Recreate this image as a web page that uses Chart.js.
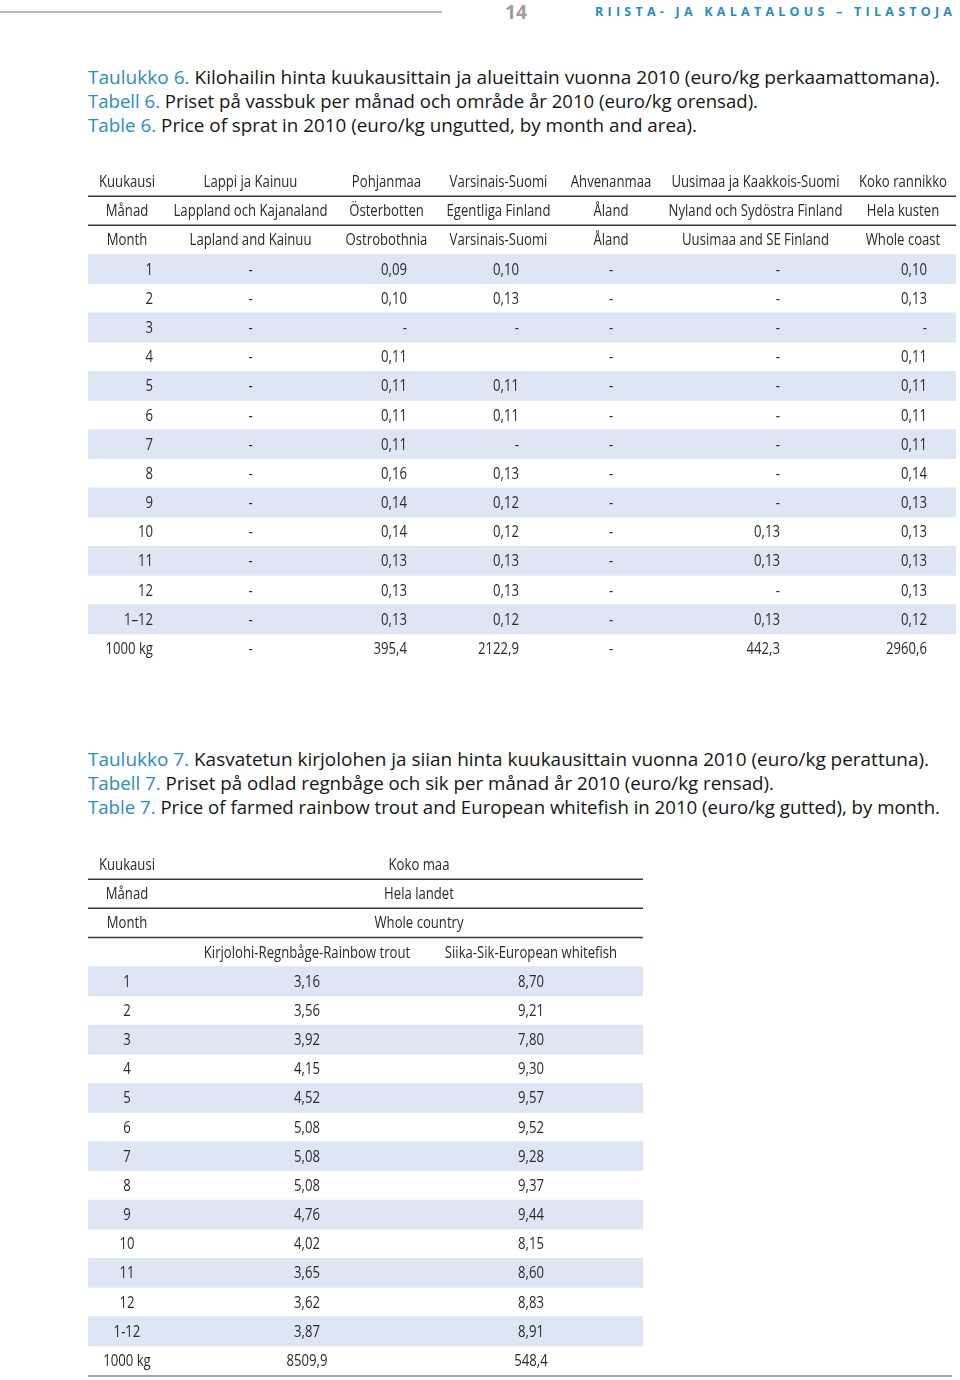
<!DOCTYPE html>
<html>
<head>
<meta charset="utf-8">
<script src="https://cdn.jsdelivr.net/npm/chart.js@4.4.0/dist/chart.umd.min.js"></script>
<style>
html,body{margin:0;padding:0;background:#fff;}
body{width:960px;height:1380px;position:relative;overflow:hidden;font-family:'Open Sans','Noto Sans',sans-serif;}
.topline{position:absolute;left:0;top:11px;width:442px;height:2px;background:#b8b8b8;}
.pnum{position:absolute;left:505px;top:0;height:24px;line-height:24px;font-size:20px;font-weight:700;color:#9d9d9d;white-space:nowrap;transform-origin:0 50%;}
.runhead{position:absolute;left:595px;top:0;height:24px;line-height:24px;font-size:12.5px;font-weight:700;color:#1f8dc6;white-space:nowrap;}
.tline{position:absolute;left:88px;height:24px;line-height:24px;font-size:18px;color:#161616;white-space:nowrap;transform-origin:0 50%;}
.tline .b{color:#2a8bc9;}
.botline{position:absolute;left:88px;top:1375px;width:864px;height:2px;background:#a8a8a8;}
.tbl{position:absolute;}
</style>
</head>
<body>
<div class="topline"></div>
<div class="pnum" id="pnum">14</div>
<div class="runhead" id="runhead">RIISTA- JA KALATALOUS – TILASTOJA</div>

<div class="tline" data-w="852" style="top:65px"><span class="b">Taulukko 6.</span> Kilohailin hinta kuukausittain ja alueittain vuonna 2010 (euro/kg perkaamattomana).</div>
<div class="tline" data-w="670" style="top:89px"><span class="b">Tabell 6.</span> Priset på vassbuk per månad och område år 2010 (euro/kg orensad).</div>
<div class="tline" data-w="609" style="top:113px"><span class="b">Table 6.</span> Price of sprat in 2010 (euro/kg ungutted, by month and area).</div>

<div class="tbl" style="left:88px;top:167px;width:868px;height:496px;"><canvas id="t6" width="868" height="496"></canvas></div>

<div class="tline" data-w="841" style="top:747px"><span class="b">Taulukko 7.</span> Kasvatetun kirjolohen ja siian hinta kuukausittain vuonna 2010 (euro/kg perattuna).</div>
<div class="tline" data-w="686" style="top:771px"><span class="b">Tabell 7.</span> Priset på odlad regnbåge och sik per månad år 2010 (euro/kg rensad).</div>
<div class="tline" data-w="852" style="top:795px"><span class="b">Table 7.</span> Price of farmed rainbow trout and European whitefish in 2010 (euro/kg gutted), by month.</div>

<div class="tbl" style="left:88px;top:850px;width:555px;height:525px;"><canvas id="t7" width="555" height="525"></canvas></div>

<div class="botline"></div>

<script>
// ---------------- DATA: Table 6 (sprat, euro/kg) ----------------
// null = "-" , "" = empty cell
const months6 = ['1','2','3','4','5','6','7','8','9','10','11','12','1–12','1000 kg'];
const head6Fi = ['Kuukausi','Lappi ja Kainuu','Pohjanmaa','Varsinais-Suomi','Ahvenanmaa','Uusimaa ja Kaakkois-Suomi','Koko rannikko'];
const head6Sv = ['Månad','Lappland och Kajanaland','Österbotten','Egentliga Finland','Åland','Nyland och Sydöstra Finland','Hela kusten'];
const head6En = ['Month','Lapland and Kainuu','Ostrobothnia','Varsinais-Suomi','Åland','Uusimaa and SE Finland','Whole coast'];
const lappi      = [null,null,null,null,null,null,null,null,null,null,null,null,null,null];
const pohjanmaa  = [0.09,0.10,null,0.11,0.11,0.11,0.11,0.16,0.14,0.14,0.13,0.13,0.13,395.4];
const varsinais  = [0.10,0.13,null,'',0.11,0.11,null,0.13,0.12,0.12,0.13,0.13,0.12,2122.9];
const ahvenanmaa = [null,null,null,null,null,null,null,null,null,null,null,null,null,null];
const uusimaa    = [null,null,null,null,null,null,null,null,null,0.13,0.13,null,0.13,442.3];
const koko       = [0.10,0.13,null,0.11,0.11,0.11,0.11,0.14,0.13,0.13,0.13,0.13,0.12,2960.6];

// ---------------- DATA: Table 7 (trout & whitefish, euro/kg) ----------------
const months7 = ['1','2','3','4','5','6','7','8','9','10','11','12','1-12','1000 kg'];
const head7Month = ['Kuukausi','Månad','Month',''];
const head7Area  = ['Koko maa','Hela landet','Whole country'];
const head7Species = ['Kirjolohi-Regnbåge-Rainbow trout','Siika-Sik-European whitefish'];
const trout     = [3.16,3.56,3.92,4.15,4.52,5.08,5.08,5.08,4.76,4.02,3.65,3.62,3.87,8509.9];
const whitefish = [8.70,9.21,7.80,9.30,9.57,9.52,9.28,9.37,9.44,8.15,8.60,8.83,8.91,548.4];

// ---------------- helpers ----------------
const FONT_SIZE = 15.5;
const CELL_FONT = FONT_SIZE + "px 'Open Sans','Noto Sans',sans-serif";
const TEXT_COLOR = '#2a2a2a';
const STRIPE = '#dde6f2';
const RULE = '#3a3a3a';

function fmt(v, isTotalRow){
  if (v === null) return '-';
  if (v === '') return '';
  return v.toFixed(isTotalRow ? 1 : 2).replace('.', ',');
}

let SX = 1;
function calcScale(){
  const c = document.createElement('canvas').getContext('2d');
  c.font = CELL_FONT;
  SX = 154 / c.measureText('Lappland och Kajanaland').width;
}
calcScale();

function drawText(ctx, text, px, cy, align){
  if (!text) return;
  ctx.save();
  ctx.font = CELL_FONT;
  ctx.fillStyle = TEXT_COLOR;
  ctx.textBaseline = 'alphabetic';
  ctx.translate(px, cy + FONT_SIZE * 0.357);
  ctx.scale(SX, 1);
  ctx.textAlign = align;
  ctx.fillText(text, 0, 0);
  ctx.restore();
}

function tablePlugin(spec){
  return {
    id: 'tableCells',
    afterDatasetsDraw(chart){
      const ctx = chart.ctx, xs = chart.scales.x, ys = chart.scales.y;
      // horizontal rules between header rows
      ctx.save();
      ctx.strokeStyle = RULE;
      ctx.lineWidth = 1.5;
      spec.rulesAfter.forEach(i => {
        const yy = (ys.getPixelForValue(i) + ys.getPixelForValue(i + 1)) / 2;
        ctx.beginPath();
        ctx.moveTo(xs.getPixelForValue(xs.min), yy);
        ctx.lineTo(xs.getPixelForValue(xs.max), yy);
        ctx.stroke();
      });
      ctx.restore();
      // header cells
      spec.header.forEach((row, r) => {
        const cy = ys.getPixelForValue(r);
        row.forEach(cell => drawText(ctx, cell.text, xs.getPixelForValue(cell.at), cy, 'center'));
      });
      // body cells
      const nh = spec.header.length;
      spec.columns.forEach(col => {
        col.values.forEach((v, i) => {
          const cy = ys.getPixelForValue(nh + i);
          const txt = (typeof v === 'string' && col.raw) ? v : fmt(v, i === col.values.length - 1);
          drawText(ctx, txt, xs.getPixelForValue(col.at), cy, col.align);
        });
      });
    }
  };
}

function makeTable(id, width, rowLabels, stripeRows, spec){
  const stripes = rowLabels.map((_, i) => stripeRows.includes(i) ? [0, width] : null);
  return new Chart(document.getElementById(id), {
    type: 'bar',
    data: {
      labels: rowLabels,
      datasets: [{
        data: stripes,
        backgroundColor: STRIPE,
        borderWidth: 0,
        barPercentage: 1,
        categoryPercentage: 1
      }]
    },
    options: {
      indexAxis: 'y',
      responsive: false,
      animation: false,
      events: [],
      layout: { padding: 0 },
      plugins: { legend: { display: false }, tooltip: { enabled: false } },
      scales: {
        x: { type: 'linear', min: 0, max: width, display: false },
        y: { type: 'category', offset: true, display: false }
      }
    },
    plugins: [tablePlugin(spec)]
  });
}

// ---------------- Table 6 layout ----------------
const W6 = 868;
const head6At = [39, 162.5, 298.5, 410.5, 523, 667.5, 815];
const rows6 = [head6Fi[0], head6Sv[0], head6En[0]].concat(months6);
makeTable('t6', W6, rows6, [3,5,7,9,11,13,15], {
  rulesAfter: [0, 1],
  header: [head6Fi, head6Sv, head6En].map(h => h.map((t, i) => ({ text: t, at: head6At[i] }))),
  columns: [
    { values: months6, at: 65, align: 'right', raw: true },
    { values: lappi, at: 162.5, align: 'center' },
    { values: pohjanmaa, at: 319, align: 'right' },
    { values: varsinais, at: 431, align: 'right' },
    { values: ahvenanmaa, at: 523, align: 'center' },
    { values: uusimaa, at: 692, align: 'right' },
    { values: koko, at: 839, align: 'right' }
  ]
});

// ---------------- Table 7 layout ----------------
const W7 = 555;
const rows7 = head7Month.concat(months7);
makeTable('t7', W7, rows7, [4,6,8,10,12,14,16], {
  rulesAfter: [0, 1, 2],
  header: [
    [{ text: head7Month[0], at: 39 }, { text: head7Area[0], at: 331 }],
    [{ text: head7Month[1], at: 39 }, { text: head7Area[1], at: 331 }],
    [{ text: head7Month[2], at: 39 }, { text: head7Area[2], at: 331 }],
    [{ text: head7Species[0], at: 219 }, { text: head7Species[1], at: 443 }]
  ],
  columns: [
    { values: months7, at: 39, align: 'center', raw: true },
    { values: trout, at: 219, align: 'center' },
    { values: whitefish, at: 443, align: 'center' }
  ]
});

// ---------------- page text fitting ----------------
document.querySelectorAll('.tline').forEach(l => {
  const w = l.getBoundingClientRect().width;
  l.style.transform = 'scaleX(' + (parseFloat(l.dataset.w) / w) + ')';
});
(function(){
  const rh = document.getElementById('runhead');
  const w0 = rh.getBoundingClientRect().width;
  const n = rh.textContent.length;
  rh.style.letterSpacing = ((357 - w0) / (n - 1)) + 'px';
  const pn = document.getElementById('pnum');
  pn.style.transform = 'scaleX(' + (22 / pn.getBoundingClientRect().width) + ')';
})();
</script>
</body>
</html>
